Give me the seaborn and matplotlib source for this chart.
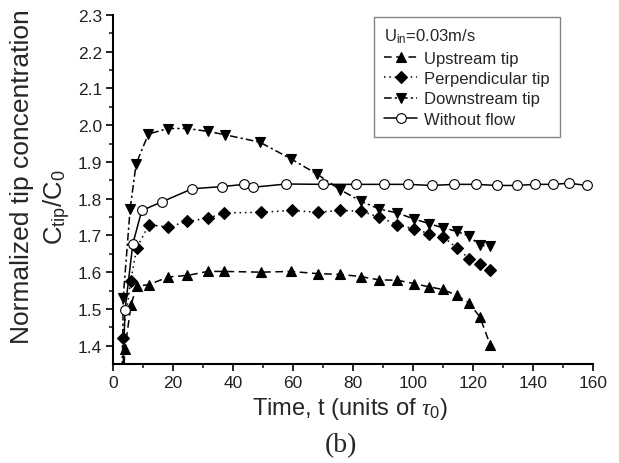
import numpy as np
import pandas as pd
import matplotlib
matplotlib.use("Agg")
import matplotlib.pyplot as plt
import seaborn as sns

# Data
up_t = [3.0, 4.0, 6.0, 7.9, 12.0, 18.4, 24.8, 31.6, 37.0, 49.2, 59.3, 68.2, 75.7,
        82.6, 88.7, 94.8, 100.3, 105.3, 109.9, 114.6, 118.7, 122.3, 125.7]
up_c = [1.25, 1.392, 1.511, 1.562, 1.566, 1.587, 1.591, 1.602, 1.602, 1.600, 1.602,
        1.596, 1.594, 1.588, 1.579, 1.578, 1.569, 1.560, 1.553, 1.537, 1.516, 1.478, 1.403]

perp_t = [3.0, 3.2, 5.9, 7.9, 12.0, 18.4, 24.8, 31.8, 37.0, 49.3, 59.6, 68.2, 75.7,
          82.7, 88.7, 94.8, 100.3, 105.3, 109.9, 114.6, 118.7, 122.3, 125.7]
perp_c = [1.25, 1.421, 1.575, 1.666, 1.729, 1.723, 1.738, 1.747, 1.761, 1.763, 1.768,
          1.763, 1.768, 1.766, 1.750, 1.729, 1.718, 1.705, 1.697, 1.666, 1.637, 1.623, 1.607]

down_t = [3.0, 3.4, 5.7, 7.7, 11.8, 18.4, 24.8, 31.8, 37.3, 48.9, 59.4, 68.0, 75.6,
          82.7, 88.7, 94.8, 100.3, 105.3, 109.9, 114.6, 118.7, 122.3, 125.7]
down_c = [1.25, 1.530, 1.771, 1.895, 1.976, 1.991, 1.991, 1.983, 1.974, 1.954, 1.908,
          1.867, 1.825, 1.793, 1.772, 1.761, 1.745, 1.732, 1.721, 1.711, 1.698, 1.673, 1.671]

noflow_t = [3.0, 4.0, 6.6, 9.6, 16.2, 26.4, 36.4, 43.8, 46.6, 57.8, 69.9, 81.0, 90.4,
            98.4, 106.2, 113.8, 121.0, 127.9, 134.6, 140.7, 146.6, 152.1, 157.9]
noflow_c = [1.25, 1.496, 1.677, 1.768, 1.791, 1.827, 1.833, 1.839, 1.831, 1.840, 1.839,
            1.839, 1.839, 1.839, 1.836, 1.839, 1.839, 1.836, 1.836, 1.839, 1.839, 1.842, 1.836]

labels = ["Upstream tip", "Perpendicular tip", "Downstream tip", "Without flow"]

sns.set_style("ticks")
plt.rcParams["font.family"] = ["Liberation Sans", "DejaVu Sans"]
plt.rcParams["mathtext.fontset"] = "custom"
plt.rcParams["mathtext.rm"] = "Liberation Sans"
plt.rcParams["mathtext.it"] = "Liberation Serif:italic"

fig = plt.figure(figsize=(6.19, 4.64), dpi=100)
ax = fig.add_axes([113 / 619, 1 - 365 / 464, 480 / 619, 349 / 464])

series = [
    (up_t, up_c, dict(marker="^", linestyle=(0, (5, 3)), markerfacecolor="black", markersize=7.5)),
    (perp_t, perp_c, dict(marker="D", linestyle=(0, (1, 2.5)), markerfacecolor="black", markersize=6.5)),
    (down_t, down_c, dict(marker="v", linestyle=(0, (5, 2, 1.5, 2)), markerfacecolor="black", markersize=7.5)),
    (noflow_t, noflow_c, dict(marker="o", linestyle="-", markerfacecolor="white", markersize=7)),
]

for (t, c, style), lab in zip(series, labels):
    df = pd.DataFrame({"t": t, "c": c})
    sns.lineplot(data=df, x="t", y="c", ax=ax, color="black", linewidth=1.1,
                 markeredgecolor="black", markeredgewidth=0.8, sort=False,
                 estimator=None, label=lab, **style)

ax.set_xlim(0, 160)
ax.set_ylim(1.35, 2.3)
ax.set_xticks(np.arange(0, 161, 20))
ax.set_xticks(np.arange(10, 160, 20), minor=True)
ax.set_yticks(np.arange(1.4, 2.31, 0.1))
ax.set_yticks(np.arange(1.45, 2.3, 0.1), minor=True)
ax.yaxis.set_major_formatter(matplotlib.ticker.FormatStrFormatter("%.1f"))
ax.tick_params(which="major", direction="out", length=5, width=1.4,
               labelsize=12.5, labelcolor="#222222", pad=3)
ax.tick_params(which="minor", direction="out", length=3, width=1.2)
for s in ["top", "right"]:
    ax.spines[s].set_visible(False)
for s in ["left", "bottom"]:
    ax.spines[s].set_linewidth(1.5)
    ax.spines[s].set_color("black")

ax.set_xlabel("")
ax.set_ylabel("")

fig.text(350 / 619, 1 - 409 / 464, r"Time, t (units of $\tau_0$)",
         ha="center", va="center", fontsize=17)
fig.text(22 / 619, 1 - 177 / 464, "Normalized tip concentration", rotation=90,
         ha="center", va="center", fontsize=19)
fig.text(57 / 619, 1 - 207 / 464, r"C$_{\rm tip}$/C$_0$", rotation=90,
         ha="center", va="center", fontsize=18.5)
fig.text(341 / 619, 1 - 446 / 464, "(b)", ha="center", va="center",
         fontsize=20, family="Liberation Serif")

leg = ax.legend(loc="upper left", bbox_to_anchor=(374 / 619, 1 - 18 / 464),
                bbox_transform=fig.transFigure, title=r"U$_{\rm in}$=0.03m/s",
                fontsize=12, title_fontsize=12, frameon=True, fancybox=False,
                handlelength=2.0, handletextpad=0.4, labelspacing=0.32,
                borderpad=0.6, borderaxespad=0, alignment="left")
leg.get_frame().set_edgecolor("#666666")
leg.get_frame().set_linewidth(1.0)

fig.savefig("out.png", dpi=100)
